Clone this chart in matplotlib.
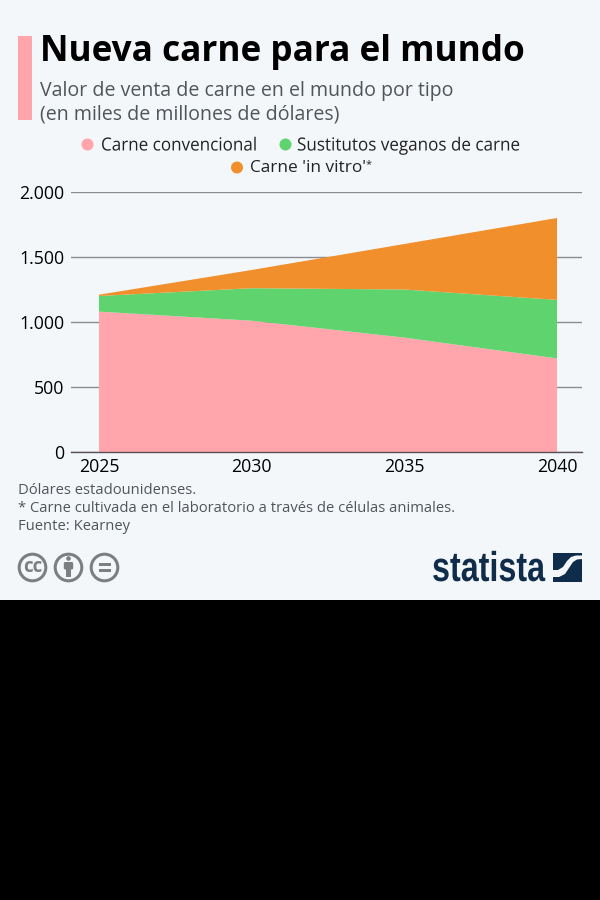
import matplotlib
matplotlib.use('Agg')
import matplotlib.pyplot as plt
from matplotlib.patches import Rectangle, Circle, Polygon, FancyBboxPatch
from matplotlib.patheffects import AbstractPathEffect
from matplotlib.transforms import Affine2D

plt.rcParams['font.family'] = ['Open Sans', 'DejaVu Sans']

# Data
years = [2025, 2030, 2035, 2040]
convencional = [1080, 1010, 880, 720]
veganos = [120, 250, 370, 450]
in_vitro = [10, 140, 350, 630]
y_ticks = [0, 500, 1000, 1500, 2000]
y_labels = ['0', '500', '1.000', '1.500', '2.000']
series_names = ['Carne convencional', 'Sustitutos veganos de carne', "Carne 'in vitro'"]

pink = '#ffa5ab'
green = '#5fd36d'
orange = '#f08f2b'
bg = '#f4f7fa'
navy = '#0f2d4a'
grey_txt = '#4f5558'
icon_grey = '#7c7f81'

W, H = 600, 900


class Squeeze(AbstractPathEffect):
    '''Squeezes text sideways, no condensed font is installed'''
    def __init__(self, sx, x0):
        super().__init__()
        self.sx = sx
        self.x0 = x0

    def draw_path(self, renderer, gc, tpath, affine, rgbFace=None):
        squeeze = Affine2D().translate(-self.x0, 0).scale(self.sx, 1).translate(self.x0, 0)
        renderer.draw_path(gc, tpath, affine + squeeze, rgbFace)


fig = plt.figure(figsize=(6, 9), dpi=100, facecolor='black')

# Overlay in pixel coordinates, for header, footer and logo
bg_ax = fig.add_axes([0, 0, 1, 1], zorder=0)
bg_ax.set_xlim(0, W)
bg_ax.set_ylim(H, 0)
bg_ax.axis('off')
bg_ax.add_patch(Rectangle((0, 0), 600, 600, color=bg, lw=0))
bg_ax.add_patch(Rectangle((18, 36), 14, 84, color=pink, lw=0))

bg_ax.text(40, 52, 'Nueva carne para el mundo', fontsize=25.25, fontweight='bold', color='black', va='center')
bg_ax.text(40, 91, 'Valor de venta de carne en el mundo por tipo', fontsize=14.05, color=grey_txt, va='center')
bg_ax.text(40, 114.5, '(en miles de millones de dólares)', fontsize=14.05, color=grey_txt, va='center')

# Legend
bg_ax.add_patch(Circle((87.5, 144.5), 6, color=pink, lw=0))
bg_ax.text(101, 145.5, series_names[0], fontsize=13, color='#222222', va='center', path_effects=[Squeeze(0.945, 101)])
bg_ax.add_patch(Circle((285.5, 144.5), 6, color=green, lw=0))
bg_ax.text(297, 145.5, series_names[1], fontsize=13, color='#222222', va='center', path_effects=[Squeeze(0.945, 297)])
bg_ax.add_patch(Circle((237, 167.5), 6, color=orange, lw=0))
bg_ax.text(250, 168.5, series_names[2], fontsize=12.4, color='#222222', va='center')
bg_ax.text(365.5, 164.5, '*', fontsize=8, color='#222222', va='center')

# Footer
bg_ax.text(18, 491, 'Dólares estadounidenses.', fontsize=10.6, color=grey_txt, va='center')
bg_ax.text(18, 509, '* Carne cultivada en el laboratorio a través de células animales.', fontsize=10.6, color=grey_txt, va='center')
bg_ax.text(18, 527, 'Fuente: Kearney', fontsize=10.6, color=grey_txt, va='center')

# CC icons
for cx in [32.5, 68.5, 104.5]:
    bg_ax.add_patch(Circle((cx, 567.5), 13.3, fc='none', ec=icon_grey, lw=2.2))
bg_ax.text(32.5, 566.5, 'cc', fontsize=13.5, fontweight='bold', color=icon_grey, ha='center', va='center')
bg_ax.add_patch(Circle((68.5, 558.5), 2.3, color=icon_grey, lw=0))
bg_ax.add_patch(FancyBboxPatch((63.8, 562), 9.4, 7.5, boxstyle='round,pad=0,rounding_size=1.5', color=icon_grey, lw=0))
bg_ax.add_patch(Rectangle((65.8, 568), 5.4, 9, color=icon_grey, lw=0))
bg_ax.add_patch(Rectangle((98.5, 562.8), 12, 2.8, color=icon_grey, lw=0))
bg_ax.add_patch(Rectangle((98.5, 569), 12, 2.8, color=icon_grey, lw=0))

# Statista logo
bg_ax.text(432, 581, 'statista', fontsize=30, fontweight='bold', color=navy, va='baseline',
           family='Liberation Sans', path_effects=[Squeeze(0.775, 432)])
bg_ax.add_patch(Rectangle((552.5, 552.5), 29.5, 29, color=navy, lw=0))
bg_ax.add_patch(Polygon([(552.5, 570), (558, 570), (563, 567), (567, 561), (571, 557), (576, 555.5), (582, 555.5),
                         (582, 559), (577, 559.5), (573, 562), (569, 568), (565, 574), (559, 577), (552.5, 577)],
                        color=bg, lw=0))

# Chart, axes placed so that 2025 is at x=99, 2040 at x=557, 0 at y=452 and 2000 at y=192
left, right, top, bottom = 71, 582, 192, 452
ax = fig.add_axes([left / W, 1 - bottom / H, (right - left) / W, (bottom - top) / H], zorder=1)
ax.patch.set_alpha(0)
px_per_year = (557 - 99) / 15
ax.set_xlim(2025 - (99 - left) / px_per_year, 2040 + (right - 557) / px_per_year)
ax.set_ylim(0, 2000)

ax.stackplot(years, convencional, veganos, in_vitro, colors=[pink, green, orange], lw=0, zorder=2)

ax.set_yticks(y_ticks, y_labels)
ax.set_xticks(years, [str(y) for y in years])
ax.grid(axis='y', color='#8a8d90', lw=1, zorder=1)
ax.set_axisbelow(True)
ax.tick_params(axis='both', length=0, labelsize=12.8, labelcolor='black')
ax.tick_params(axis='x', pad=4)
ax.tick_params(axis='y', pad=5)
for lab in ax.get_yticklabels():
    lab.set_ha('right')
for s in ['top', 'left', 'right']:
    ax.spines[s].set_visible(False)
ax.spines['bottom'].set_color('#5a5052')
ax.spines['bottom'].set_linewidth(1)
ax.spines['bottom'].set_zorder(3)

plt.savefig('out.png', dpi=100, facecolor=fig.get_facecolor())
